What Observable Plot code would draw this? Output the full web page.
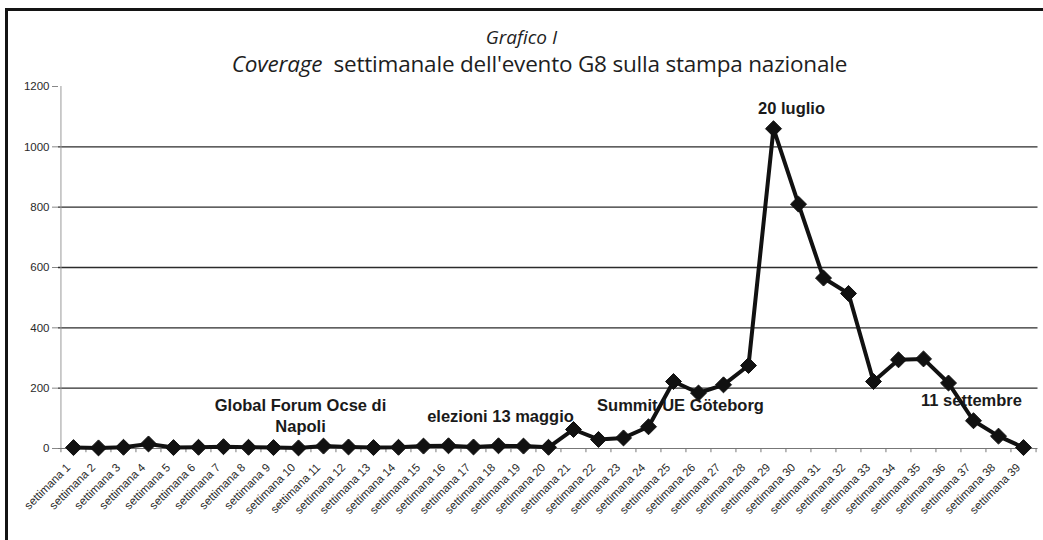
<!DOCTYPE html>
<html>
<head>
<meta charset="utf-8">
<script src="https://cdn.jsdelivr.net/npm/d3@7"></script>
<script src="https://cdn.jsdelivr.net/npm/@observablehq/plot@0.6"></script>
<style>
  body { margin: 0; background: #fff; }
  #frame { position: relative; width: 1043px; height: 540px; overflow: hidden; background: #fff; }
  #border { position: absolute; left: 5px; top: 8px; right: -5px; bottom: -5px; z-index: 2; pointer-events: none;
            border-top: 3px solid #141414; border-left: 3px solid #141414; }
  .heading { position: absolute; left: 0; width: 1043px; text-align: center; line-height: 1;
             font-family: "Open Sans", sans-serif; color: #1e1e1e; white-space: nowrap; }
  #title { top: 28px; font-size: 19px; font-style: italic; }
  #subtitle { top: 53px; left: 18px; font-size: 22.5px; letter-spacing: -0.2px; }
  #chart { position: absolute; left: 0; top: 75px; }
</style>
</head>
<body>
<div id="frame">
  <div id="border"></div>
  <div id="title" class="heading">Grafico I</div>
  <div id="subtitle" class="heading"><i>Coverage</i>&nbsp; settimanale dell'evento G8 sulla stampa nazionale</div>
  <div id="chart"></div>
</div>
<script>
// Weekly count of national press articles on the G8 event
const weeks = d3.range(1, 40).map(i => `settimana ${i}`);
const articles = [
  3, 2, 4, 15, 3, 4, 6, 4, 3, 2,
  8, 5, 3, 4, 8, 9, 5, 9, 8, 4,
  63, 30, 35, 72, 222, 184, 211, 275, 1060, 810,
  565, 514, 222, 294, 297, 217, 92, 41, 3
];
const yTicks = [0, 200, 400, 600, 800, 1000, 1200];
const gridValues = [200, 400, 600, 800, 1000];

// Events marked on the chart and the week they fall in
const eventLabels = ["Global Forum Ocse di\nNapoli", "elezioni 13 maggio", "Summit UE Göteborg", "20 luglio", "11 settembre"];
const eventWeeks = [10, 18, 25, 29, 37];

const table = weeks.map((week, i) => ({week, n: articles[i]}));
const events = eventLabels.map((label, i) => ({label, week: weeks[eventWeeks[i] - 1], n: articles[eventWeeks[i] - 1]}));

const width = 1043, height = 465;
const marginLeft = 58, marginRight = 5.5, marginTop = 11, marginBottom = 92;
const step = (width - marginLeft - marginRight) / weeks.length;

// label offsets (px) relative to the week's data point
const labelOffsets = [
  {dx: 2, dy: -33},
  {dx: 2, dy: -31},
  {dx: 7, dy: 23},
  {dx: 18, dy: -22},
  {dx: -2, dy: -22}
];

const eventText = events.map((e, i) => Plot.text([e], {
  x: "week", y: "n", text: "label",
  dx: labelOffsets[i].dx, dy: labelOffsets[i].dy,
  fontFamily: "Liberation Sans, Arial, sans-serif",
  fontSize: 16.5, fontWeight: "bold", fill: "#1a1a1a",
  lineHeight: 1.3
}));

const chart = Plot.plot({
  width, height, marginLeft, marginRight, marginTop, marginBottom,
  style: {fontFamily: "Liberation Sans, Arial, sans-serif", fontSize: "11.5px", color: "#2a2a2a", background: "transparent"},
  x: {type: "point", domain: weeks, padding: 0.5, axis: null},
  y: {domain: [0, 1200], axis: null},
  marks: [
    Plot.ruleY(gridValues, {stroke: "#2b2b2b", strokeWidth: 1.4}),
    Plot.ruleY([0], {stroke: "#777", strokeWidth: 1}),
    Plot.ruleX([weeks[0]], {y1: 0, y2: 1200, dx: -step / 2, stroke: "#999", strokeWidth: 1}),
    // small ticks between weeks along the baseline
    Plot.ruleX(weeks, {x: d => d, y1: 0, y2: -14, dx: -step / 2, stroke: "#777"}),
    Plot.ruleX([weeks[weeks.length - 1]], {y1: 0, y2: -14, dx: step / 2, stroke: "#777"}),
    Plot.axisY({ticks: yTicks, tickSize: 6, tickPadding: 3, label: null, tickFormat: d => String(d), stroke: "#888"}),
    Plot.axisX({tickRotate: -45, tickSize: 0, tickPadding: 17, dx: -5, label: null}),
    Plot.line(table, {x: "week", y: "n", stroke: "#111", strokeWidth: 4, strokeLinejoin: "round"}),
    Plot.dot(table, {x: "week", y: "n", symbol: "diamond2", r: 7.2, fill: "#111", stroke: "#111", strokeWidth: 1}),
    ...eventText
  ]
});

document.getElementById("chart").appendChild(chart);
</script>
</body>
</html>
